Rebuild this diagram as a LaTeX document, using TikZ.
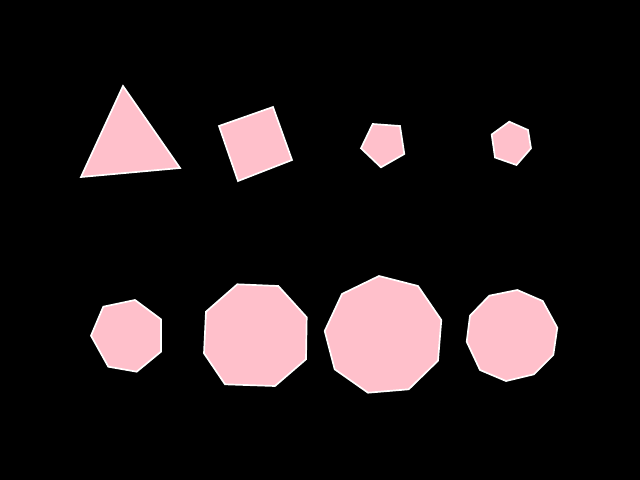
\documentclass[tikz,border=0pt]{standalone}
\definecolor{polypink}{RGB}{255,192,203}
\begin{document}
\begin{tikzpicture}[x=0.025cm,y=-0.025cm,
  poly/.style={fill=polypink,draw=white,line width=1.2pt,line join=miter}]
\fill[black] (0,0) rectangle (640,480);
\useasboundingbox (0,0) rectangle (640,480);
% triangle
\draw[poly] (123,86) -- (180,168) -- (81,177) -- cycle;
% square
\draw[poly] (273,107) -- (292,160) -- (238,181) -- (219,126) -- cycle;
% pentagon
\draw[poly] (372.7,124) -- (400,126) -- (404.3,154) -- (381,167.3) -- (361,148.3) -- cycle;
% hexagon
\draw[poly] (509.3,121.7) -- (528,130) -- (531,148.3) -- (516.5,165) -- (495,157.5) -- (491.7,134.5) -- cycle;
% heptagon
\draw[poly] (103.3,306.7) -- (135,300) -- (161,319.3) -- (161,351.7) -- (136.7,371.7) -- (108.3,366.7) -- (91,335.7) -- cycle;
% octagon
\draw[poly] (237.3,284.3) -- (278.3,286) -- (306.7,317.3) -- (306,359.3) -- (275,386) -- (225,384.3) -- (204,353.3) -- (206,311.7) -- cycle;
% nonagon
\draw[poly] (379,276) -- (418,286) -- (441.3,320) -- (438,360.7) -- (408.7,389.3) -- (368,392.7) -- (334.7,369.3) -- (324.7,331) -- (342,294) -- cycle;
% decagon
\draw[poly] (489.3,295.7) -- (517.3,290) -- (542.7,301) -- (557.3,327.7) -- (553.3,355) -- (534,374.3) -- (506,381) -- (480,370) -- (466.7,341.7) -- (470,315.7) -- cycle;
\end{tikzpicture}
\end{document}
